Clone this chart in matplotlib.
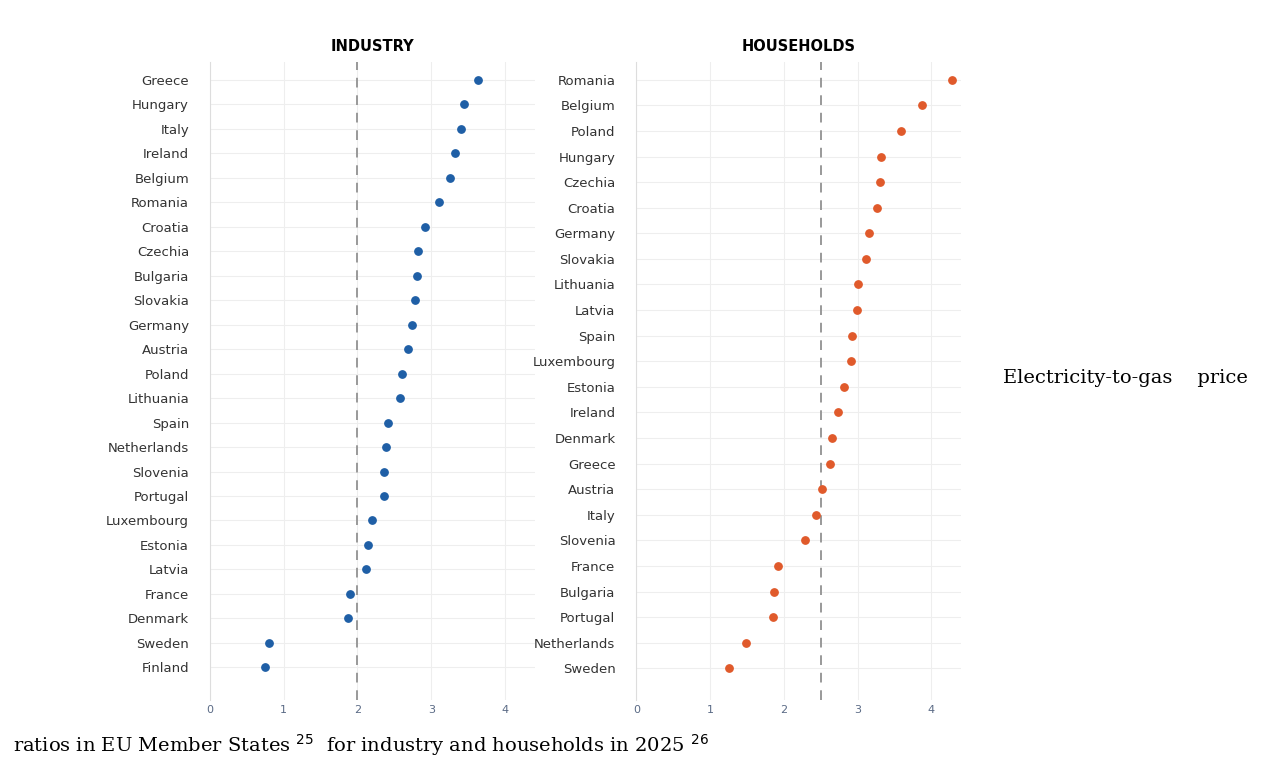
import numpy as np
import matplotlib.pyplot as plt

# 工业 / 家庭 电气价格比
ind_names = ['Greece', 'Hungary', 'Italy', 'Ireland', 'Belgium', 'Romania', 'Croatia', 'Czechia',
             'Bulgaria', 'Slovakia', 'Germany', 'Austria', 'Poland', 'Lithuania', 'Spain',
             'Netherlands', 'Slovenia', 'Portugal', 'Luxembourg', 'Estonia', 'Latvia', 'France',
             'Denmark', 'Sweden', 'Finland']
ind_vals = [3.63, 3.44, 3.41, 3.32, 3.25, 3.11, 2.91, 2.82, 2.81, 2.78, 2.74, 2.69, 2.61, 2.58,
            2.41, 2.39, 2.36, 2.36, 2.20, 2.14, 2.11, 1.90, 1.87, 0.80, 0.75]
hh_names = ['Romania', 'Belgium', 'Poland', 'Hungary', 'Czechia', 'Croatia', 'Germany', 'Slovakia',
            'Lithuania', 'Latvia', 'Spain', 'Luxembourg', 'Estonia', 'Ireland', 'Denmark', 'Greece',
            'Austria', 'Italy', 'Slovenia', 'France', 'Bulgaria', 'Portugal', 'Netherlands', 'Sweden']
hh_vals = [4.28, 3.87, 3.59, 3.32, 3.30, 3.27, 3.15, 3.12, 3.00, 2.99, 2.93, 2.91, 2.82, 2.74,
           2.66, 2.63, 2.52, 2.43, 2.29, 1.92, 1.87, 1.86, 1.49, 1.26]
ind_ref = 2.0
hh_ref = 2.5


def panel(rect, names, vals, ref, color, title, lo, hi):
    ax = plt.axes(rect)
    y = np.arange(len(names))
    ax.scatter(vals, y, s=28, color=color, zorder=3)
    ax.axvline(ref, color='#999999', ls=(0, (5, 4)), lw=1.4, zorder=2)
    ax.set_yticks(y)
    ax.set_yticklabels(names, fontsize=9.5, color='#333333')
    ax.set_ylim(len(names) - 1 + lo, -hi)
    ax.set_xlim(0, 4.4)
    ax.set_xticks([0, 1, 2, 3, 4])
    ax.tick_params(axis='x', labelsize=8, colors='#5a6a85', length=0)
    ax.tick_params(axis='y', length=0, pad=15)
    ax.grid(True, color='#eeeeee', lw=0.8)
    for s in ['top', 'right', 'bottom']:
        ax.spines[s].set_visible(False)
    ax.spines['left'].set_color('#dddddd')
    ax.set_title(title, fontsize=10.5, fontweight='bold', pad=8)
    return ax


if __name__ == '__main__':
    plt.figure(figsize=(12.88, 7.73), dpi=100)
    panel([0.163, 0.094, 0.252, 0.826], ind_names, ind_vals, ind_ref, '#1f5fa6', 'INDUSTRY', 1.35, 0.74)
    panel([0.494, 0.094, 0.252, 0.826], hh_names, hh_vals, hh_ref, '#e05a2b', 'HOUSEHOLDS', 1.25, 0.7)
    plt.figtext(0.779, 0.505, 'Electricity-to-gas    price', fontsize=14, family='DejaVu Serif')
    plt.figtext(0.01, 0.028, 'ratios in EU Member States $^{25}$  for industry and households in 2025 $^{26}$',
                fontsize=14, family='DejaVu Serif')
    plt.savefig('out.png')
